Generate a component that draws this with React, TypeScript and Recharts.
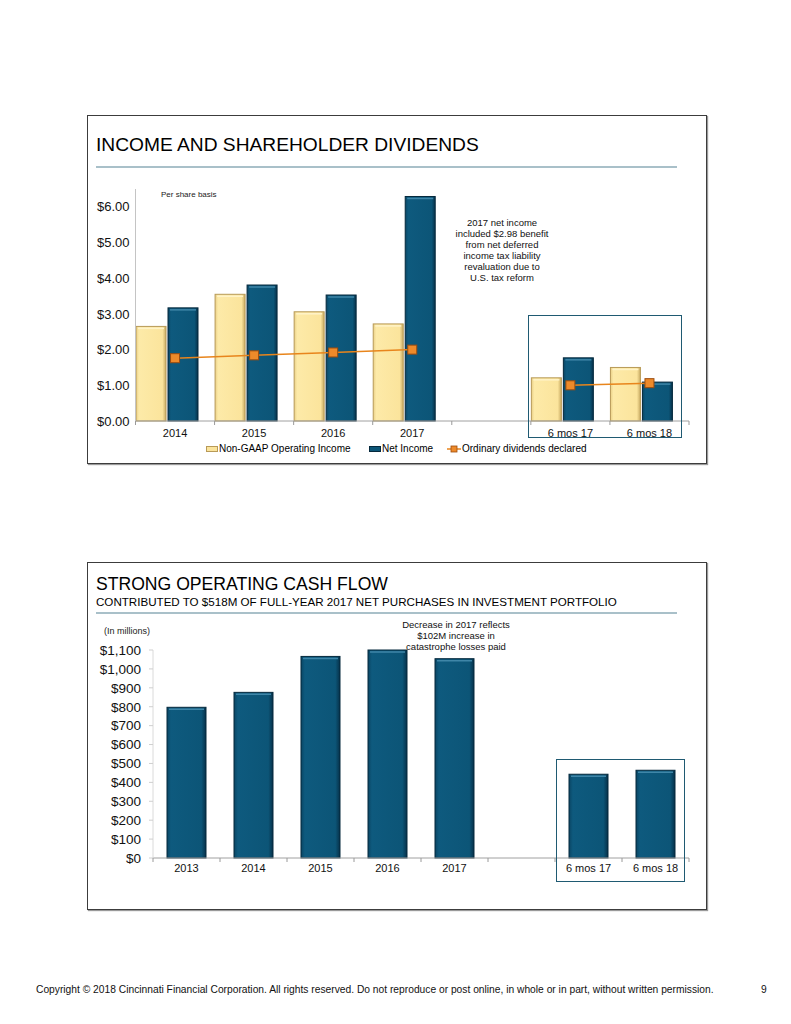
import React from "react";
import { ComposedChart, BarChart, Bar, Line, XAxis, YAxis } from "recharts";

// per share values
const incomeCategories = ["2014", "2015", "2016", "2017", " ", "6 mos 17", "6 mos 18"];
const nonGaapOperatingIncome = [2.65, 3.55, 3.06, 2.72, null, 1.21, 1.5];
const netIncome = [3.17, 3.81, 3.53, 6.29, null, 1.77, 1.09];
const dividendsDeclared = [1.76, 1.84, 1.92, 2.0, null, 1.0, 1.06];
const incomeTicks = [0, 1, 2, 3, 4, 5, 6];

// operating cash flow, $ millions
const cashCategories = ["2013", "2014", "2015", "2016", "2017", " ", "6 mos 17", "6 mos 18"];
const operatingCashFlow = [797, 876, 1066, 1100, 1054, null, 443, 464];
const cashTicks = [0, 100, 200, 300, 400, 500, 600, 700, 800, 900, 1000, 1100];

const incomeData = incomeCategories.map((name, i) => ({
  name,
  nonGaap: nonGaapOperatingIncome[i],
  net: netIncome[i],
  dividends: dividendsDeclared[i],
}));

const cashData = cashCategories.map((name, i) => ({ name, cash: operatingCashFlow[i] }));

const FONT = "'Liberation Sans', Arial, Helvetica, sans-serif";
const NAVY = "#0c5577";
const GOLD = "#fbe49c";
const ORANGE = "#e8851c";

function BevelBar(props: any) {
  const { x, y, width, height, grad, edge, hi } = props;
  if (!height || height <= 0) return null;
  return (
    <g>
      <rect x={x} y={y} width={width} height={height} fill={`url(#${grad})`} stroke={edge} strokeWidth={1} />
      <line x1={x + 2} x2={x + width - 2} y1={y + 2} y2={y + 2} stroke={hi} strokeWidth={1.5} />
    </g>
  );
}

function BandTick(props: any) {
  const { x, y, payload, index, visibleTicksCount, width, fontSize, gap } = props;
  const band = width / visibleTicksCount;
  const axisY = y - gap;
  return (
    <g>
      <line x1={x - band / 2} x2={x - band / 2} y1={axisY} y2={axisY + 4} stroke="#9a9a9a" />
      {index === visibleTicksCount - 1 && (
        <line x1={x + band / 2} x2={x + band / 2} y1={axisY} y2={axisY + 4} stroke="#9a9a9a" />
      )}
      <text x={x} y={y} dy="0.71em" textAnchor="middle" fontSize={fontSize} fill="#111" fontFamily={FONT}>
        {payload.value}
      </text>
    </g>
  );
}

function SquareDot(props: any) {
  const { cx, cy, value } = props;
  if (value == null || cx == null || cy == null) return null;
  return (
    <rect x={cx - 4.5} y={cy - 4.5} width={9} height={9} fill="#ee8a2a" stroke="#9c4c0e" strokeWidth={1} />
  );
}

function Grads() {
  return (
    <defs>
      <linearGradient id="goldBar" x1="0" y1="0" x2="1" y2="0">
        <stop offset="0%" stopColor="#e9cf86" />
        <stop offset="10%" stopColor="#fdeaa8" />
        <stop offset="88%" stopColor={GOLD} />
        <stop offset="100%" stopColor="#c9ab63" />
      </linearGradient>
      <linearGradient id="navyBar" x1="0" y1="0" x2="1" y2="0">
        <stop offset="0%" stopColor="#0a4664" />
        <stop offset="10%" stopColor="#0e5a7e" />
        <stop offset="88%" stopColor={NAVY} />
        <stop offset="100%" stopColor="#06314a" />
      </linearGradient>
    </defs>
  );
}

function IncomeChart() {
  return (
    <ComposedChart
      width={610}
      height={270}
      data={incomeData}
      margin={{ top: 9, right: 9, left: 0, bottom: 0 }}
      barCategoryGap={8.5}
      barGap={2}
    >
      <Grads />
      <XAxis
        dataKey="name"
        height={29}
        tickSize={0}
        tickMargin={8}
        axisLine={{ stroke: "#a0a0a0" }}
        tickLine={false}
        interval={0}
        tick={<BandTick fontSize={11} gap={8} />}
      />
      {/* bar pairs sit a little left of the category centre, as in the original */}
      <XAxis xAxisId="bars" dataKey="name" hide padding={{ left: -8, right: 8 }} />
      <YAxis
        width={47.5}
        domain={[0, 6.5]}
        ticks={incomeTicks}
        interval={0}
        tickFormatter={(v: number) => `$${v.toFixed(2)}`}
        tick={{ fontSize: 13, fill: "#111", fontFamily: FONT }}
        tickSize={0}
        tickMargin={6}
        tickLine={false}
        axisLine={{ stroke: "#c4c4c4" }}
      />
      <Bar
        xAxisId="bars"
        dataKey="nonGaap"
        name="Non-GAAP Operating Income"
        isAnimationActive={false}
        shape={(p: any) => <BevelBar {...p} grad="goldBar" edge="#b89a58" hi="#fff3c8" />}
      />
      <Bar
        xAxisId="bars"
        dataKey="net"
        name="Net Income"
        isAnimationActive={false}
        shape={(p: any) => <BevelBar {...p} grad="navyBar" edge="#05293d" hi="#3f86a8" />}
      />
      <Line
        dataKey="dividends"
        name="Ordinary dividends declared"
        stroke={ORANGE}
        strokeWidth={1.5}
        dot={<SquareDot />}
        activeDot={false}
        isAnimationActive={false}
      />
    </ComposedChart>
  );
}

function CashChart() {
  return (
    <BarChart
      width={610}
      height={245}
      data={cashData}
      margin={{ top: 10, right: 9, left: 0, bottom: 0 }}
      barCategoryGap={14}
    >
      <Grads />
      <XAxis
        dataKey="name"
        height={27}
        tickSize={0}
        tickMargin={6}
        axisLine={{ stroke: "#a0a0a0" }}
        tickLine={false}
        interval={0}
        tick={<BandTick fontSize={11} gap={6} />}
      />
      <YAxis
        width={65}
        domain={[0, 1100]}
        ticks={cashTicks}
        interval={0}
        tickFormatter={(v: number) => `$${v.toLocaleString("en-US")}`}
        tick={{ fontSize: 13.5, fill: "#111", fontFamily: FONT }}
        tickSize={4}
        tickMargin={8}
        tickLine={{ stroke: "#cfcfcf" }}
        axisLine={{ stroke: "#dadada" }}
      />
      <Bar
        dataKey="cash"
        isAnimationActive={false}
        shape={(p: any) => <BevelBar {...p} grad="navyBar" edge="#05293d" hi="#3f86a8" />}
      />
    </BarChart>
  );
}

const abs = (left: number, top: number, extra: React.CSSProperties = {}): React.CSSProperties => ({
  position: "absolute",
  left,
  top,
  ...extra,
});

function LegendSwatch({ kind }: { kind: "gold" | "navy" | "line" }) {
  if (kind === "line") {
    return (
      <svg width={14} height={10} style={{ verticalAlign: "middle", marginRight: 1 }}>
        <line x1={0} x2={14} y1={5} y2={5} stroke={ORANGE} strokeWidth={1.5} />
        <rect x={4} y={2} width={6} height={6} fill="#ee8a2a" stroke="#9c4c0e" strokeWidth={0.8} />
      </svg>
    );
  }
  return (
    <svg width={12} height={8} style={{ verticalAlign: "middle", marginRight: 1 }}>
      <rect
        x={0.5}
        y={1.5}
        width={11}
        height={5}
        fill={kind === "gold" ? GOLD : NAVY}
        stroke={kind === "gold" ? "#b89a58" : "#05293d"}
      />
    </svg>
  );
}

export default function App() {
  const panel: React.CSSProperties = {
    position: "absolute",
    left: 87,
    width: 618,
    border: "1px solid #3c3c3c",
    boxShadow: "1px 1px 1px #9a9a9a",
    background: "#fff",
  };
  const rule: React.CSSProperties = { position: "absolute", left: 96, width: 581, height: 2, background: "#a9c0c9" };
  const note: React.CSSProperties = { fontSize: 9.5, lineHeight: "11px", textAlign: "center", color: "#111" };

  return (
    <div style={{ position: "absolute", left: 0, top: 0, width: 791, height: 1024, background: "#fff", fontFamily: FONT, color: "#000" }}>
      {/* panel 1 */}
      <div style={{ ...panel, top: 115, height: 347 }} />
      <div style={abs(96, 134, { fontSize: 19.2, whiteSpace: "nowrap" })}>INCOME AND SHAREHOLDER DIVIDENDS</div>
      <div style={{ ...rule, top: 166 }} />
      <div style={abs(88, 180)}>
        <IncomeChart />
      </div>
      <div style={abs(161, 190, { fontSize: 8, color: "#222" })}>Per share basis</div>
      <div style={abs(432, 217, { ...note, width: 140 })}>
        2017 net income
        <br />
        included $2.98 benefit
        <br />
        from net deferred
        <br />
        income tax liability
        <br />
        revaluation due to
        <br />
        U.S. tax reform
      </div>
      <div style={abs(528, 315, { width: 152, height: 121, border: "1.5px solid #1f5a72" })} />
      <div style={abs(206, 443, { fontSize: 10, whiteSpace: "nowrap" })}>
        <LegendSwatch kind="gold" />Non-GAAP Operating Income
      </div>
      <div style={abs(369, 443, { fontSize: 10, whiteSpace: "nowrap" })}>
        <LegendSwatch kind="navy" />Net Income
      </div>
      <div style={abs(447, 443, { fontSize: 10, whiteSpace: "nowrap" })}>
        <LegendSwatch kind="line" />Ordinary dividends declared
      </div>

      {/* panel 2 */}
      <div style={{ ...panel, top: 562, height: 346 }} />
      <div style={abs(96, 574, { fontSize: 17.6, whiteSpace: "nowrap" })}>STRONG OPERATING CASH FLOW</div>
      <div style={abs(96, 595, { fontSize: 11.6, whiteSpace: "nowrap" })}>
        CONTRIBUTED TO $518M OF FULL-YEAR 2017 NET PURCHASES IN INVESTMENT PORTFOLIO
      </div>
      <div style={{ ...rule, top: 612, height: 1.5 }} />
      <div style={abs(88, 640)}>
        <CashChart />
      </div>
      <div style={abs(104, 626, { fontSize: 9, color: "#222" })}>(In millions)</div>
      <div style={abs(386, 619, { ...note, width: 140 })}>
        Decrease in 2017 reflects
        <br />
        $102M increase in
        <br />
        catastrophe losses paid
      </div>
      <div style={abs(556, 759, { width: 127, height: 121, border: "1.5px solid #1f5a72" })} />

      {/* footer */}
      <div style={abs(36, 984, { fontSize: 10.25, whiteSpace: "nowrap", color: "#111" })}>
        Copyright © 2018 Cincinnati Financial Corporation. All rights reserved. Do not reproduce or post online, in whole or
        in part, without written permission.
      </div>
      <div style={abs(761, 984, { fontSize: 10.25, color: "#111" })}>9</div>
    </div>
  );
}
